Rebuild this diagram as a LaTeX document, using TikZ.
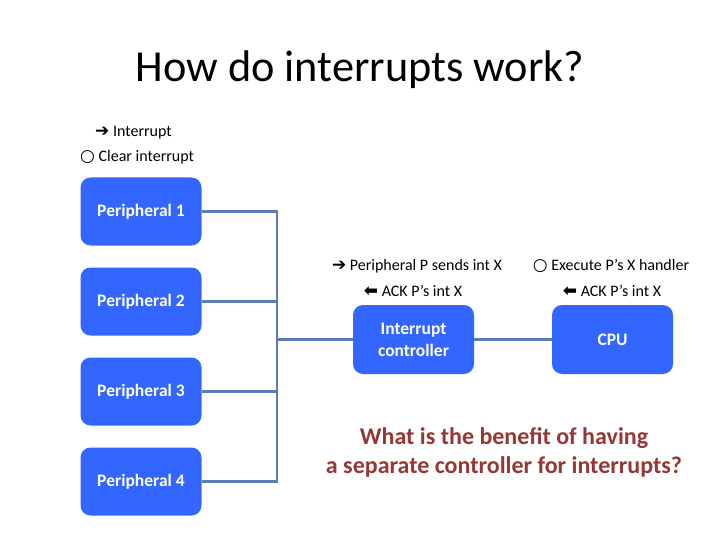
\documentclass[tikz,border=0pt]{standalone}
\usepackage{fontspec}
\setmainfont{Carlito}
\newfontfamily\symfont{DejaVu Sans}
\usetikzlibrary{positioning}

\definecolor{boxblue}{HTML}{3366FF}
\definecolor{busblue}{HTML}{5B7DB1}
\definecolor{askred}{HTML}{953735}

\newcommand{\rarr}{{\symfont\bfseries\fontsize{17}{17}\selectfont ➔}}
\newcommand{\larr}{{\symfont\bfseries\fontsize{17}{17}\selectfont ⬅}}
\newcommand{\ring}{{\symfont\bfseries\fontsize{17}{17}\selectfont ○}}

\begin{document}
\begin{tikzpicture}[x=1pt, y=-1pt,
    unit/.style={draw=none, fill=boxblue, rounded corners=10pt, minimum width=121pt, minimum height=68pt, text=white, font=\fontsize{17.5}{22}\selectfont\bfseries, align=center, inner sep=0pt},
    bus/.style={draw=busblue, line width=2.6pt},
    note/.style={font=\fontsize{16}{18}\selectfont, inner sep=0pt}]
  \useasboundingbox (0,0) rectangle (720,540);

  % title
  \node[font=\fontsize{44.3}{50}\selectfont, inner sep=0pt] (title) at (360,69.5) {How do interrupts work?};

  % legend
  \node[note, anchor=west] (lint) at (95,133) {\rarr\ Interrupt};
  \node[note, anchor=west] (lclr) at (80,157.5) {\ring\ Clear interrupt};

  % peripherals
  \node[unit] (p1) at (141,211.5) {Peripheral 1};
  \node[unit] (p2) at (141,301.5) {Peripheral 2};
  \node[unit] (p3) at (141,391.5) {Peripheral 3};
  \node[unit] (p4) at (141,481.5) {Peripheral 4};

  \node[unit, minimum height=69pt] (ic) at (413.5,339.5) {Interrupt\\controller};
  \node[unit, minimum height=69pt] (cpu) at (612.5,339.5) {CPU};

  % bus
  \coordinate (bt) at (277,211.5);
  \coordinate (bb) at (277,481.5);
  \draw[bus] (p1.east) -- (bt) -- (bb) -- (p4.east);
  \draw[bus] (p2.east) -- (p2.east -| bt);
  \draw[bus] (p3.east) -- (p3.east -| bt);
  \draw[bus] (ic.west -| bt) -- (ic.west);
  \draw[bus] (ic.east) -- (cpu.west);

  % steps
  \node[note] (send) at (417,266) {\rarr\ Peripheral P sends int X};
  \node[note] (ack1) at (413,291) {\larr\ ACK P’s int X};
  \node[note] (exec) at (611,266) {\ring\ Execute P’s X handler};
  \node[note] (ack2) at (612,291) {\larr\ ACK P’s int X};

  % question
  \node[text=askred, font=\fontsize{24}{29}\selectfont\bfseries, align=center, inner sep=0pt] (ask) at (504,452) {What is the benefit of having\\a separate controller for interrupts?};
\end{tikzpicture}
\end{document}
